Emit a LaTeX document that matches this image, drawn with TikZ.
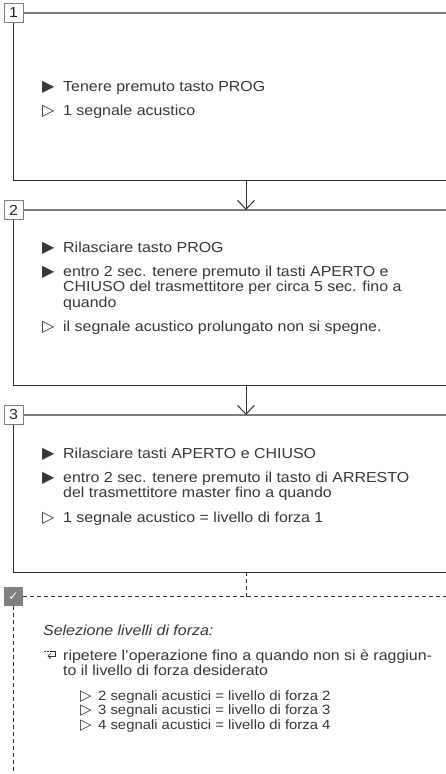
\documentclass[tikz,border=0pt]{standalone}
\usepackage{fontspec}
\setmainfont[FakeStretch=1.1]{Liberation Sans}
\newfontfamily\symfont{DejaVu Sans}
\usepackage{tikz}
\usetikzlibrary{arrows.meta}
\definecolor{textgrey}{RGB}{55,55,55}
\definecolor{linedark}{RGB}{50,50,50}
\definecolor{linegrey}{RGB}{125,125,125}
\definecolor{checkgrey}{RGB}{128,128,128}
\tikzset{
  base/.style={font=\fontsize{14.5}{15.5}\selectfont, text=textgrey, inner sep=0pt, anchor=base west, align=left},
  small/.style={base, font=\fontsize{13.5}{14.5}\selectfont},
  bul/.style={base, font=\symfont\fontsize{16}{16}\selectfont},
  subbul/.style={base, font=\symfont\fontsize{15}{15}\selectfont},
  numbox/.style={draw=linegrey, fill=white, line width=0.9pt, minimum size=19pt, inner sep=0pt, font=\fontsize{14.5}{15}\selectfont, text=black!85},
  chkbox/.style={fill=checkgrey, minimum size=19pt, inner sep=0pt, text=white, font=\symfont\fontsize{12}{12}\selectfont},
  frame/.style={draw=linedark, line width=1pt},
  topline/.style={draw=linegrey, line width=1.3pt},
  arr/.style={draw=linedark, line width=1pt, -{Straight Barb[length=9pt,width=17pt]}},
  dashline/.style={draw=linedark, line width=0.9pt, dash pattern=on 4pt off 3pt},
}
\begin{document}
\begin{tikzpicture}[x=1pt,y=-1pt]
  \useasboundingbox (0,0) rectangle (446,774);
  % step frames
  \foreach \n/\top/\bot in {1/13/180,2/210/385,3/415/572}{
    \node[numbox] (num\n) at (13.5,\top) {\n};
    \draw[topline] (num\n.east) -- (446,\top);
    \draw[frame] (num\n.south) -- (13.5,\bot) -- (446,\bot);
  }
  \coordinate (bot1) at (246,180);  \coordinate (top2) at (246,210);
  \coordinate (bot2) at (246,385);  \coordinate (top3) at (246,415);
  \draw[arr] (bot1) -- (top2);
  \draw[arr] (bot2) -- (top3);
  % step 1 (multi-line texts sit on their last baseline)
  \node[bul] (b1a) at (42,91) {▶};  \node[base] (t1a) at (63,91) {Tenere premuto tasto PROG};
  \node[bul] (b1b) at (42,115) {▷}; \node[base] (t1b) at (63,115) {1 segnale acustico};
  % step 2
  \node[bul] (b2a) at (42,252) {▶};  \node[base] (t2a) at (63,252) {Rilasciare tasto PROG};
  \node[bul] (b2b) at (42,276) {▶};  \node[base] (t2b) at (63,307) {entro 2 sec. tenere premuto il tasti APERTO e\\CHIUSO del trasmettitore per circa 5 sec. fino a\\quando};
  \node[bul] (b2c) at (42,331) {▷}; \node[base] (t2c) at (63,331) {il segnale acustico prolungato non si spegne.};
  % step 3
  \node[bul] (b3a) at (42,458) {▶};  \node[base] (t3a) at (63,458) {Rilasciare tasti APERTO e CHIUSO};
  \node[bul] (b3b) at (42,482) {▶};  \node[base] (t3b) at (63,497.5) {entro 2 sec. tenere premuto il tasto di ARRESTO\\del trasmettitore master fino a quando};
  \node[bul] (b3c) at (42,522) {▷}; \node[base] (t3c) at (63,522) {1 segnale acustico = livello di forza 1};
  % result block
  \coordinate (bot3) at (246,572);
  \node[chkbox] (chk) at (13.5,596.5) {✓};
  \coordinate (dashend) at (446,596.5);
  \coordinate (chkfoot) at (13.5,774);
  \coordinate (dashmid) at (246,596.5);
  \draw[dashline] (chk.east) -- (dashend);
  \draw[dashline] (chk.south) -- (chkfoot);
  \draw[dashline] (bot3) -- (dashmid);
  \node[base,font=\itshape\fontsize{14.5}{15}\selectfont] (sel) at (43,635) {Selezione livelli di forza:};
  % repeat icon
  \draw[linedark,line width=0.8pt] (44,651) -- (45.5,651) (47,651) -- (48.5,651);
  \draw[linedark,line width=0.8pt,-{Straight Barb[length=2.5pt,width=5pt]}] (50,651) -- (55.5,651) -- (55.5,656) -- (47.5,656);
  \node[base] (rep) at (63,675.5) {ripetere l'operazione fino a quando non si è raggiun-\\to il livello di forza desiderato};
  \foreach \k/\y in {2/700,3/714.5,4/729}{
    \node[subbul] (bs\k) at (80,\y) {▷};
    \node[small] (ts\k) at (98,\y) {\k{} segnali acustici = livello di forza \k};
  }
\end{tikzpicture}
\end{document}
